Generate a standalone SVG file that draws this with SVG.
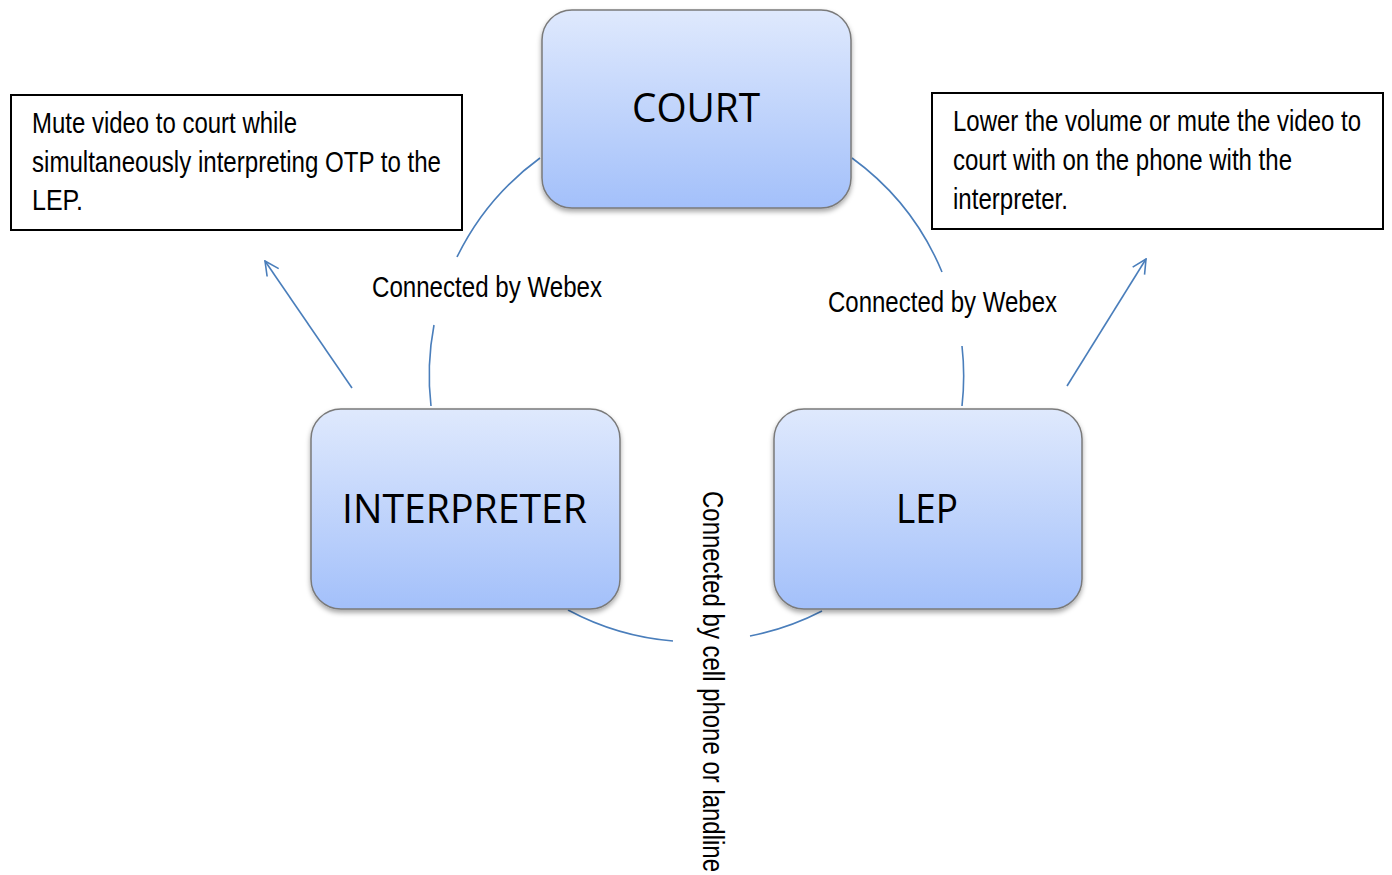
<svg xmlns="http://www.w3.org/2000/svg" width="1392" height="875" viewBox="0 0 1392 875">
<style>
.node rect{fill:url(#g);stroke:#7a7a7a;stroke-width:1.5;filter:url(#sh)}
.nl{font-family:"Open Sans","Noto Sans",sans-serif;font-size:40px;fill:#000;text-anchor:start}
.t{font-family:"Liberation Sans",Arial,sans-serif;font-size:29px;fill:#000}
.box{fill:#fff;stroke:#000;stroke-width:2}
.c path{fill:none;stroke:#4a7ebb;stroke-width:1.6}
</style>
<defs>
<linearGradient id="g" x1="0" y1="0" x2="0" y2="1">
<stop offset="0" stop-color="#dfe9fd"/>
<stop offset="1" stop-color="#a3c0fa"/>
</linearGradient>
<filter id="sh" x="-10%" y="-10%" width="120%" height="125%">
<feDropShadow dx="0" dy="3" stdDeviation="2.5" flood-color="#000" flood-opacity="0.35"/>
</filter>
<marker id="ah" markerUnits="userSpaceOnUse" viewBox="0 0 16 16" markerWidth="16" markerHeight="16" refX="15" refY="8" orient="auto">
<path d="M1,1 L15,8 L1,15" fill="none" stroke="#4a7ebb" stroke-width="1.6"/>
</marker>
</defs>
<rect width="1392" height="875" fill="#fff"/>
<g id="connectors" class="c">
<path d="M457,257 A268,268 0 0 1 540,158"/>
<path d="M434,325 A268,268 0 0 0 431,406"/>
<path d="M852,158 A268,268 0 0 1 942,272"/>
<path d="M962,346 A268,268 0 0 1 962,406"/>
<path d="M568,610 A268,268 0 0 0 673,641"/>
<path d="M750,636 A268,268 0 0 0 822,611"/>
<path d="M352,388 L265,261" marker-end="url(#ah)"/>
<path d="M1067,386 L1146,259" marker-end="url(#ah)"/>
</g>
<g id="label-webex-left"><text class="t" x="372" y="297" textLength="230" lengthAdjust="spacingAndGlyphs">Connected by Webex</text></g>
<g id="label-webex-right"><text class="t" x="828" y="312" textLength="229" lengthAdjust="spacingAndGlyphs">Connected by Webex</text></g>
<g id="label-phone"><text class="t" transform="translate(703,491) rotate(90)" x="0" y="0" textLength="381" lengthAdjust="spacingAndGlyphs">Connected by cell phone or landline</text></g>
<g id="court" class="node">
<rect x="542" y="10" width="309" height="198" rx="30"/>
<text class="nl" x="632" y="122" textLength="128" lengthAdjust="spacingAndGlyphs">COURT</text>
</g>
<g id="interpreter" class="node">
<rect x="311" y="409" width="309" height="200" rx="30"/>
<text class="nl" x="342" y="523" textLength="245" lengthAdjust="spacingAndGlyphs">INTERPRETER</text>
</g>
<g id="lep" class="node">
<rect x="774" y="409" width="308" height="200" rx="30"/>
<text class="nl" x="896" y="523" textLength="62" lengthAdjust="spacingAndGlyphs">LEP</text>
</g>
<g id="note-left">
<rect class="box" x="11" y="95" width="451" height="135"/>
<text class="t" x="32" y="133" textLength="265" lengthAdjust="spacingAndGlyphs">Mute video to court while</text>
<text class="t" x="32" y="172" textLength="409" lengthAdjust="spacingAndGlyphs">simultaneously interpreting OTP to the</text>
<text class="t" x="32" y="210" textLength="51" lengthAdjust="spacingAndGlyphs">LEP.</text>
</g>
<g id="note-right">
<rect class="box" x="932" y="93" width="451" height="136"/>
<text class="t" x="953" y="131" textLength="408" lengthAdjust="spacingAndGlyphs">Lower the volume or mute the video to</text>
<text class="t" x="953" y="170" textLength="339" lengthAdjust="spacingAndGlyphs">court with on the phone with the</text>
<text class="t" x="953" y="209" textLength="115" lengthAdjust="spacingAndGlyphs">interpreter.</text>
</g>
</svg>
